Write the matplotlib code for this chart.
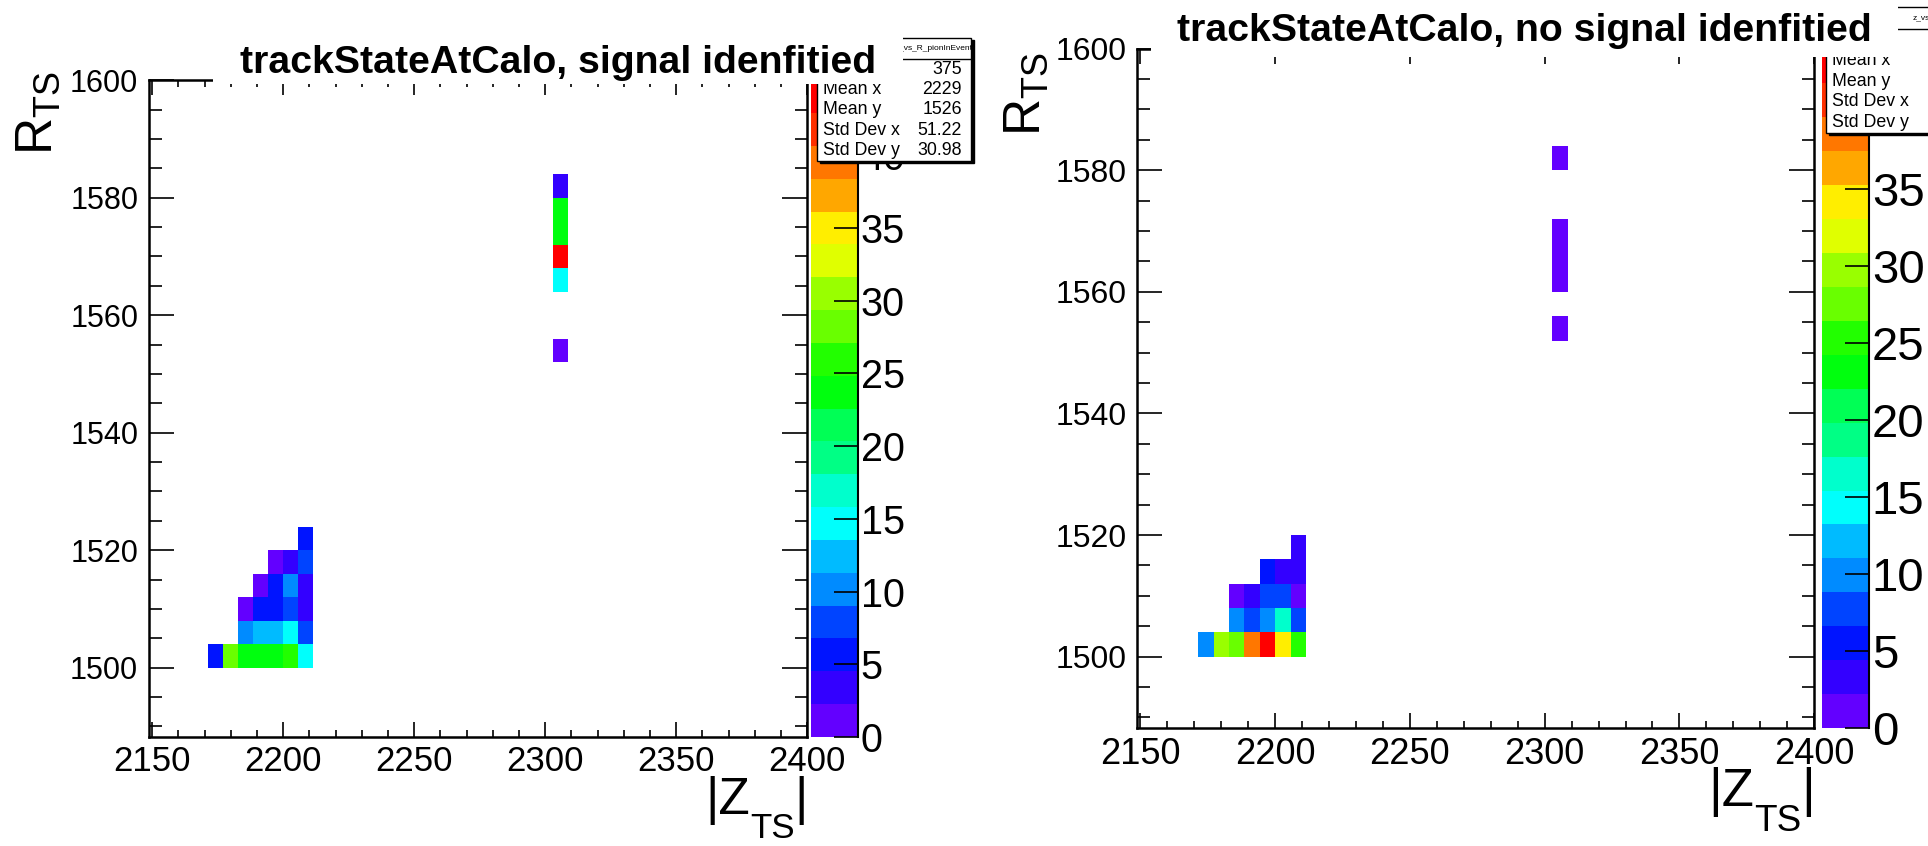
import colorsys
import numpy as np
import matplotlib
matplotlib.use("Agg")
import matplotlib.pyplot as plt
from matplotlib.colors import ListedColormap, BoundaryNorm
from matplotlib.patches import Rectangle
from matplotlib.lines import Line2D
from matplotlib.ticker import MultipleLocator
from matplotlib.transforms import Bbox, TransformedBbox

plt.rcParams['font.family'] = ['Liberation Sans', 'DejaVu Sans']
plt.rcParams['mathtext.fontset'] = 'custom'
plt.rcParams['mathtext.rm'] = 'Liberation Sans'
plt.rcParams['mathtext.it'] = 'Liberation Sans:italic'
plt.rcParams['mathtext.bf'] = 'Liberation Sans:bold'

# ---------------- data ----------------
z_edges = np.linspace(2000, 2400, 71)     # |Z_TS| binning
r_edges = np.linspace(1400, 1800, 101)    # R_TS binning

z_cols = [2174.3, 2180.0, 2185.7, 2191.4, 2197.1, 2202.9, 2208.6]
r_rows = [1502, 1506, 1510, 1514, 1518, 1522]
z_high = 2305.7
r_high = [1554, 1558, 1562, 1566, 1570, 1574, 1578, 1582]

sig_low = [
    [6, 29, 24, 24, 24, 27, 15],
    [0, 0, 11, 13, 13, 15, 8],
    [0, 0, 1, 5, 6, 7, 3],
    [0, 0, 0, 1, 5, 10, 3],
    [0, 0, 0, 0, 1, 3, 7],
    [0, 0, 0, 0, 0, 0, 5],
]
sig_high = [1, 0, 0, 14, 43, 24, 23, 4]

nosig_low = [
    [10, 29, 27, 38, 42, 34, 25],
    [0, 0, 10, 7, 10, 16, 8],
    [0, 0, 1, 3, 7, 7, 2],
    [0, 0, 0, 0, 5, 3, 4],
    [0, 0, 0, 0, 0, 0, 3],
    [0, 0, 0, 0, 0, 0, 0],
]
nosig_high = [1, 0, 1, 1, 1, 0, 0, 1]

titles = ["trackStateAtCalo, signal idenfitied", "trackStateAtCalo, no signal idenfitied"]
stat_labels = ["Entries", "Mean x", "Mean y", "Std Dev x", "Std Dev y"]
sig_stat_values = ["375", "2229", "1526", "51.22", "30.98"]
cbar_ticks = [0, 5, 10, 15, 20, 25, 30, 35, 40]

# ---------------- helpers ----------------
W, H = 1928, 846
fig = plt.figure(figsize=(W / 100, H / 100), dpi=100)
renderer = fig.canvas.get_renderer()


def frect(x0, y0, x1, y1):
    return [x0 / W, 1 - y1 / H, (x1 - x0) / W, (y1 - y0) / H]


def fx(x):
    return x / W


def fy(y):
    return 1 - y / H


# ROOT "pretty" palette with 20 contour levels
colors = []
for k in range(20):
    i = int((k + 0.99) * 50 / 20)
    hue = 280 - (i + 1) * 280 / 50
    colors.append(colorsys.hls_to_rgb(hue / 360.0, 0.5, 1.0))
cmap = ListedColormap(colors)


def build_hist(low, high):
    zs, rs, ws = [], [], []
    for r, row in zip(r_rows, low):
        for z, w in zip(z_cols, row):
            zs.append(z); rs.append(r); ws.append(w)
    for r, w in zip(r_high, high):
        zs.append(z_high); rs.append(r); ws.append(w)
    h, _, _ = np.histogram2d(zs, rs, bins=[z_edges, r_edges], weights=ws)
    return np.ma.masked_where(h.T <= 0, h.T)


def draw_panel(axrect, caxrect, low, high, xls, yls, cls):
    ax = fig.add_axes(frect(*axrect))
    cax = fig.add_axes(frect(*caxrect))
    hist = build_hist(low, high)
    zmax = 1.05 * hist.max()
    norm = BoundaryNorm(np.linspace(0, zmax, 21), 20)
    mesh = ax.pcolormesh(z_edges, r_edges, hist, cmap=cmap, norm=norm)
    ax.set_xlim(2148.9, 2400)
    ax.set_ylim(1488.2, 1600)
    ax.xaxis.set_major_locator(MultipleLocator(50))
    ax.xaxis.set_minor_locator(MultipleLocator(10))
    ax.yaxis.set_major_locator(MultipleLocator(20))
    ax.yaxis.set_minor_locator(MultipleLocator(5))
    ax.tick_params(axis='x', which='major', direction='in', length=10.8, width=1.2,
                   top=True, bottom=True, labelsize=xls, pad=6)
    ax.tick_params(axis='x', which='minor', direction='in', length=5, width=1.2,
                   top=True, bottom=True)
    ax.tick_params(axis='y', which='major', direction='in', length=18, width=1.2,
                   left=True, right=True, labelsize=yls, pad=8)
    ax.tick_params(axis='y', which='minor', direction='in', length=9, width=1.2,
                   left=True, right=True)
    for s in ax.spines.values():
        s.set_linewidth(1.8)
    cb = fig.colorbar(mesh, cax=cax, ticks=cbar_ticks)
    cb.outline.set_visible(False)
    cax.tick_params(axis='y', which='both', direction='in', length=17, width=1.2,
                    right=True, left=False, labelsize=cls, pad=2)
    cax.minorticks_off()
    cax.set_yticks(cbar_ticks)
    cax.set_yticklabels([str(t) for t in cbar_ticks])
    cax.set_ylim(0, zmax)
    cax.plot([1, 1], [0, 1], transform=cax.transAxes, color='k', lw=1.5, clip_on=False)
    return ax, cax


draw_panel((149.3, 80.2, 807.2, 737.0), (811, 80.2, 858, 737.0), sig_low, sig_high, 25, 22, 28.5)
draw_panel((1137.4, 48.7, 1814.2, 728.4), (1822, 48.7, 1869, 728.4), nosig_low, nosig_high, 26, 23, 34)


def stats_box(x0, y0, x1, y1, hdr_y, header, header_x, values):
    fig.add_artist(Rectangle((fx(x0 + 2.5), fy(y1 + 2.5)), (x1 - x0) / W, (y1 - y0) / H,
                             transform=fig.transFigure, facecolor='black', edgecolor='black',
                             zorder=10))
    fig.add_artist(Rectangle((fx(x0), fy(y1)), (x1 - x0) / W, (y1 - y0) / H,
                             transform=fig.transFigure, facecolor='white', edgecolor='black',
                             lw=1.0, zorder=11))
    fig.add_artist(Line2D([fx(x0), fx(x1)], [fy(hdr_y), fy(hdr_y)], transform=fig.transFigure,
                          color='black', lw=1.0, zorder=12))
    clip = TransformedBbox(Bbox.from_extents(fx(x0), fy(y1), fx(x1), fy(y0)), fig.transFigure)
    t = fig.text(fx(header_x), fy((y0 + hdr_y) / 2), header, ha='right', va='center',
                 fontsize=6, zorder=12)
    t.set_clip_box(clip); t.set_clip_on(True)
    rowh = (y1 - hdr_y) / 5.0
    for j, lab in enumerate(stat_labels):
        yc = hdr_y + rowh * (j + 0.5)
        t = fig.text(fx(x0 + 6), fy(yc), lab, ha='left', va='center', fontsize=12.8, zorder=12)
        t.set_clip_box(clip); t.set_clip_on(True)
        if values is not None:
            t = fig.text(fx(x1 - 9), fy(yc), values[j], ha='right', va='center',
                         fontsize=12.8, zorder=12)
            t.set_clip_box(clip); t.set_clip_on(True)


stats_box(817, 37.7, 971, 160.7, 59.3, "Z_vs_R_pionInEvent", 973, sig_stat_values)
stats_box(1826, 7, 1980, 133, 29, "z_vs_R_noPionInEvent", 2000, None)

# title panes (white, cover what is below)
fig.add_artist(Rectangle((fx(213), fy(84)), (903 - 213) / W, 84 / H, transform=fig.transFigure,
                         facecolor='white', edgecolor='none', zorder=20))
fig.add_artist(Rectangle((fx(1151), fy(57)), (1898 - 1151) / W, 57 / H, transform=fig.transFigure,
                         facecolor='white', edgecolor='none', zorder=20))
fig.text(fx(558), fy(73), titles[0], ha='center', va='baseline', fontsize=28.3,
         fontweight='bold', zorder=21)
fig.text(fx(1524.5), fy(41), titles[1], ha='center', va='baseline', fontsize=28.3,
         fontweight='bold', zorder=21)

# axis titles
fig.text(fx(52), fy(71), r'$\mathregular{R_{TS}}$', rotation=90, rotation_mode='anchor',
         ha='right', va='baseline', fontsize=37)
fig.text(fx(1040), fy(52), r'$\mathregular{R_{TS}}$', rotation=90, rotation_mode='anchor',
         ha='right', va='baseline', fontsize=37)


def z_title(x_right, baseline, size, sub=0.68):
    """|Z_TS| with a ROOT-like (deep) subscript, right aligned."""
    px_per_pt = 100 / 72.0
    parts = [("|Z", size, 0.0), ("TS", size * sub, size * 0.47 * px_per_pt), ("|", size, 0.0)]
    widths = []
    for s, fs, _ in parts:
        t = fig.text(0, 0, s, fontsize=fs)
        widths.append(t.get_window_extent(renderer).width)
        t.remove()
    x = x_right - sum(widths)
    for (s, fs, drop), w in zip(parts, widths):
        fig.text(fx(x), fy(baseline + drop), s, ha='left', va='baseline', fontsize=fs)
        x += w


z_title(808, 814, 37)
z_title(1815, 806, 38, 0.7)

fig.savefig("out.png", dpi=100)
